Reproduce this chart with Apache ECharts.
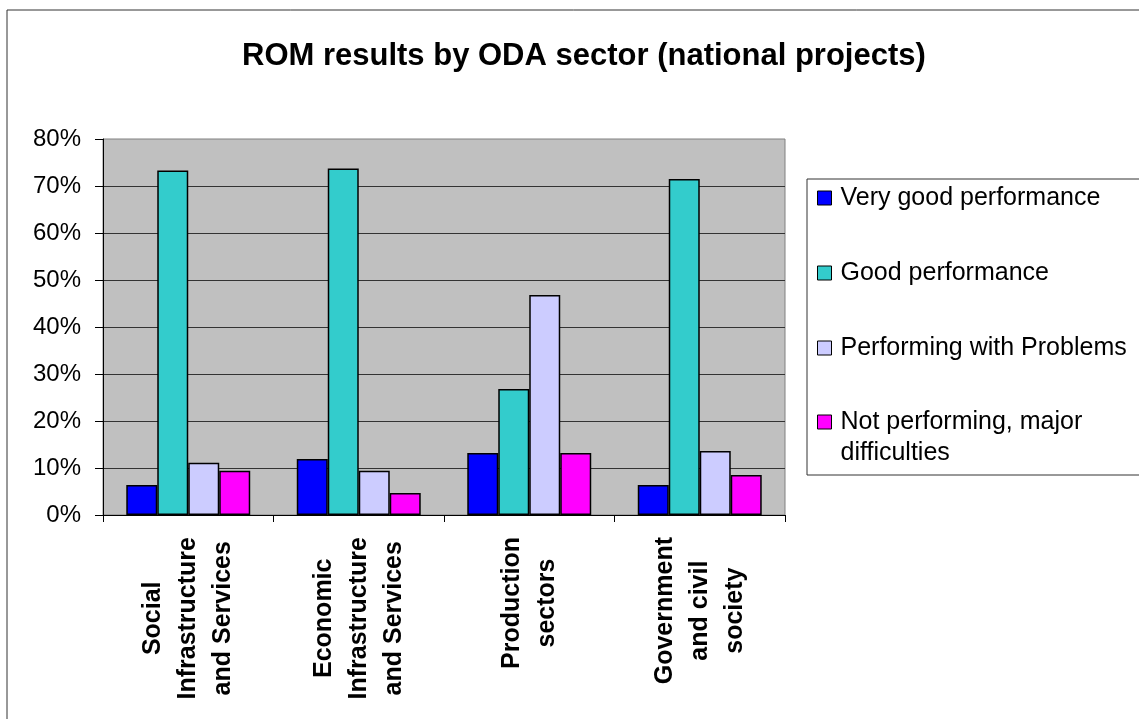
<!DOCTYPE html>
<html>
<head>
<meta charset="utf-8">
<script src="https://cdn.jsdelivr.net/npm/echarts@6/dist/echarts.min.js"></script>
<style>
html,body{margin:0;padding:0;background:#fff;}
#chart{width:1139px;height:719px;}
</style>
</head>
<body>
<div id="chart"></div>
<script>
const categories = ['Social\nInfrastructure\nand Services', 'Economic\nInfrastructure\nand Services', 'Production\nsectors', 'Government\nand civil\nsociety'];
const seriesNames = ['Very good performance', 'Good performance', 'Performing with Problems', 'Not performing, major difficulties'];
const veryGood = [6.4, 11.9, 13.2, 6.4];
const good = [73.3, 73.7, 26.8, 71.5];
const withProblems = [11.1, 9.4, 46.8, 13.6];
const notPerforming = [9.4, 4.7, 13.2, 8.5];
const yTicks = [0, 10, 20, 30, 40, 50, 60, 70, 80];

const colors = ['#0000FF', '#33CCCC', '#CCCCFF', '#FF00FF'];
const FONT = '"Liberation Sans", Arial, sans-serif';
const values = [veryGood, good, withProblems, notPerforming];

const chart = echarts.init(document.getElementById('chart'));
const option = {
  animation: false,
  backgroundColor: '#fff',
  title: {
    text: 'ROM results by ODA sector (national projects)',
    left: 237, top: 36,
    textStyle: { fontFamily: FONT, fontSize: 31, fontWeight: 'bold', color: '#000' }
  },
  graphic: [
    { type: 'rect', shape: { x: 7, y: 10, width: 1200, height: 800 }, style: { fill: 'none', stroke: '#333', lineWidth: 1 }, z: 0, silent: true },
    { type: 'rect', shape: { x: 807, y: 179, width: 400, height: 296 }, style: { fill: 'none', stroke: '#333', lineWidth: 1 }, z: 0, silent: true }
  ],
  legend: [
    {
      data: seriesNames.slice(0, 3),
      orient: 'vertical', left: 817, top: 183, padding: 0,
      itemWidth: 14, itemHeight: 14, itemGap: 45,
      icon: 'rect', selectedMode: false,
      itemStyle: { borderColor: '#000', borderWidth: 1 },
      textStyle: { fontFamily: FONT, fontSize: 25, lineHeight: 30, color: '#000', padding: [0, 0, 0, 4] }
    },
    {
      data: [{ name: seriesNames[3], icon: 'path://M0,0L14,0L14,14L0,14ZM0,45L0.01,45' }],
      orient: 'vertical', left: 817, top: 406.5, padding: 0,
      itemWidth: 14, itemHeight: 45, selectedMode: false,
      itemStyle: { borderColor: '#000', borderWidth: 1 },
      formatter: function (n) { return n.replace('major ', 'major\n'); },
      textStyle: { fontFamily: FONT, fontSize: 25, lineHeight: 31, color: '#000', padding: [0, 0, 0, 4] }
    }
  ],
  grid: {
    left: 103, right: 354, top: 139, bottom: 204,
    show: true, backgroundColor: '#C0C0C0', borderColor: '#808080', borderWidth: 1,
    containLabel: false, outerBoundsMode: 'none'
  },
  xAxis: {
    type: 'category',
    data: categories,
    boundaryGap: true,
    axisLine: { show: true, lineStyle: { color: '#000', width: 1 } },
    axisTick: { show: true, length: 7, inside: false, alignWithLabel: false, lineStyle: { color: '#000' } },
    axisLabel: {
      interval: 0, rotate: 90, margin: 22,
      formatter: function (v) { return v.split('\n').map(function (l) { return '{c|' + l + '}'; }).join('\n'); },
      rich: { c: { align: 'center', fontFamily: FONT, fontSize: 25, fontWeight: 'bold', lineHeight: 35, color: '#000' } }
    },
    splitLine: { show: false }
  },
  yAxis: {
    type: 'value', min: 0, max: 80, interval: 10,
    axisLine: { show: true, lineStyle: { color: '#000', width: 1 } },
    axisTick: { show: true, length: 8, lineStyle: { color: '#000' } },
    axisLabel: { formatter: '{value}%', margin: 22, fontFamily: FONT, fontSize: 24, color: '#000' },
    splitLine: { show: true, showMaxLine: false, lineStyle: { color: '#333', width: 1 } }
  },
  series: seriesNames.map(function (name, i) {
    return {
      name: name, type: 'bar', data: values[i],
      barGap: '0%', barCategoryGap: '27.3%',
      itemStyle: { color: colors[i], borderColor: '#000', borderWidth: 1.5 }
    };
  })
};
chart.setOption(option);
</script>
</body>
</html>
